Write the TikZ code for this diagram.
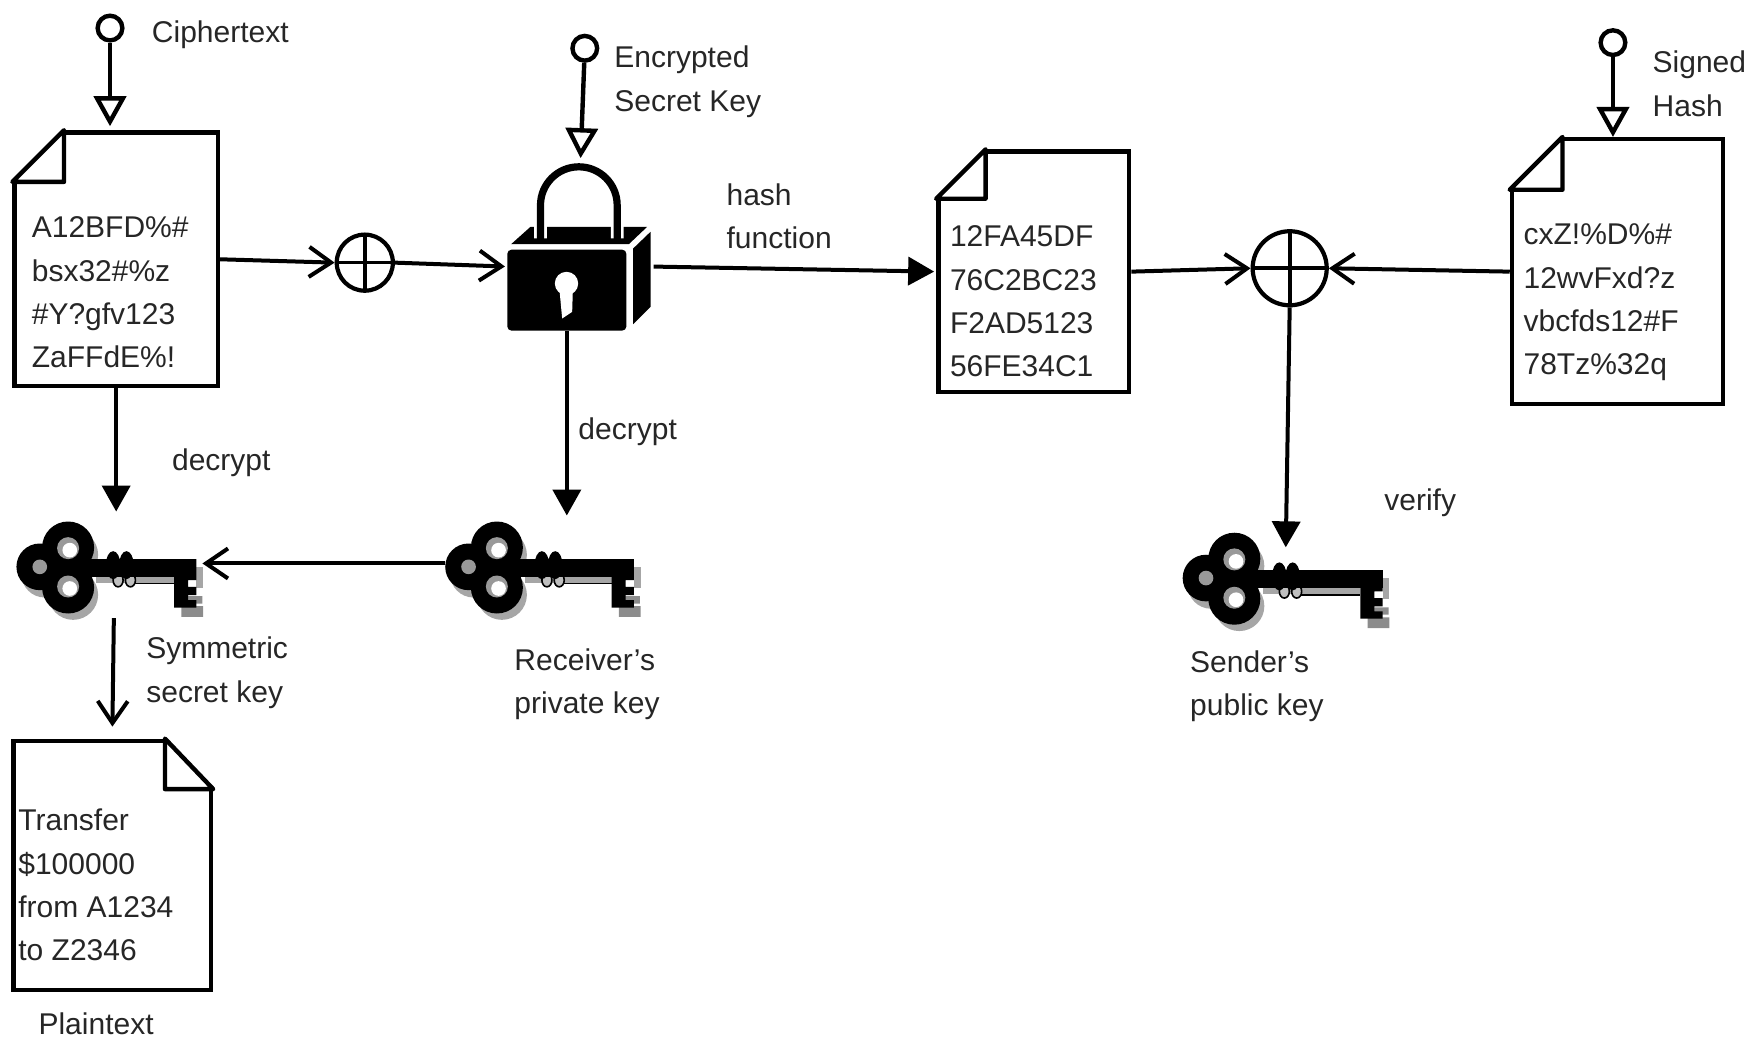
\documentclass[tikz,border=0pt]{standalone}
\usepackage{fontspec}
\setmainfont{Liberation Sans}
\usetikzlibrary{arrows.meta,calc}
\def\unitpx{0.5612pt}
\tikzset{
    docbox/.style 2 args={draw, line width=2.2pt, rectangle, inner sep=0pt,
        minimum width=#1*\unitpx, minimum height=#2*\unitpx},
    foldline/.style={draw, fill=white, line width=2.2pt, line join=round},
    plaintxt/.style={anchor=west, align=left, inner sep=0pt, text=black!85,
        font=\fontsize{15}{21.7}\selectfont},
    pinc/.style={draw, circle, line width=2.2pt, fill=white, inner sep=0pt, minimum size=22*\unitpx},
    xorc/.style={draw, circle, line width=2.1pt, inner sep=0pt, minimum size=#1*\unitpx,
        path picture={\draw[line width=1.8pt] (path picture bounding box.north) -- (path picture bounding box.south);
            \draw[line width=1.8pt] (path picture bounding box.west) -- (path picture bounding box.east);}},
    keyslot/.style={inner sep=0pt, minimum width=#1*\unitpx, minimum height=80*\unitpx},
    lockbody/.style={fill=black, rounded corners=2pt, inner sep=0pt, minimum width=106*\unitpx, minimum height=72*\unitpx},
    pinline/.style={line width=2.2pt, -{Triangle[open, length=15pt, width=16pt]}},
    openline/.style={line width=2pt, -{Straight Barb[length=11pt, width=15pt]}},
    fullline/.style={line width=2pt, -{Triangle[length=13pt, width=14pt]}},
    % key drawn in its own small units, left edge on the origin, #1 shortens the shaft
    pics/keyicon/.style={code={
        \begin{scope}[shift={(70,0)}]
            \fill[black!35] (15,22) circle[radius=70] (100,-36) circle[radius=75] (100,84) circle[radius=75];
            \fill[black!35] (170,20) rectangle (463-#1,48);
            \draw[line width=0.8pt] (280,50) -- (463-#1,50);
            \draw[line width=0.8pt, fill=black!25] (235,40) ellipse[x radius=15, y radius=20] (272,40) ellipse[x radius=15, y radius=20];
            \fill (0,0) circle[radius=70] (85,-58) circle[radius=78] (85,62) circle[radius=78];
            \fill (220,-5) ellipse[x radius=22, y radius=42] (260,-5) ellipse[x radius=22, y radius=42];
            \fill (120,-23) rectangle (530-#1,30);
            \begin{scope}[shift={(-#1,0)}]
                \fill[black!35] (530,0) rectangle (550,62);
                \fill[black!45] (485,118) rectangle (550,150) (500,88) rectangle (548,110);
                \fill (530,-23) -- (530,40) -- (505,40) -- (505,60) -- (530,60) -- (530,85)
                    -- (505,85) -- (505,100) -- (530,100) -- (530,122) -- (463,122) -- (463,-23) -- cycle;
            \end{scope}
            \fill[black!40] (0,0) circle[radius=22] (85,-56) circle[radius=33] (85,59) circle[radius=33];
            \fill[white] (90,-50) circle[radius=22] (90,65) circle[radius=22];
        \end{scope}
    }},
    lockicon/.pic={
        \fill (-167,-138) -- (-109,-190) -- (241,-190) -- (186,-138) -- cycle;
        \fill (199,-125) -- (251,-175) -- (251,50) -- (199,102) -- cycle;
        \draw[white, line width=6.4pt] (-79,-155) -- (-79,-255) arc[start angle=180, end angle=360, radius=115] -- (151,-155);
        \draw[line width=3.6pt, line cap=round] (-79,-155) -- (-79,-255) arc[start angle=180, end angle=360, radius=115] -- (151,-155);
        \fill[white] (-1,-20) circle[radius=35];
        \fill[white] (-22,0) -- (18,0) -- (16,65) -- (-14,85) -- cycle;
    }
}
\begin{document}
\begin{tikzpicture}[x=0.5612pt, y=-0.5612pt]
    \useasboundingbox (0,0) rectangle (1568,924.8);

    % documents
    \node[docbox={181}{226}] (cipher) at (103.5,231) {};
    \node[docbox={170}{214}] (digest) at (921,242) {};
    \node[docbox={188}{236}] (signed) at (1441,242) {};
    \node[docbox={176}{222}] (plain) at (100,771) {};
    \foreach \n/\f in {cipher/46, digest/44, signed/47} {
        \fill[white] (\n.north west) -- ++(\f,0) -- ++(-\f,\f) -- cycle;
        \draw[white, line width=2.6pt] (\n.north west) ++(-1,\f) -- ++(0,-\f-1) -- ++(\f,0);
        \draw[foldline] (\n.north west) ++(\f,0) -- ++(-\f,\f) -- ++(\f,0) -- cycle;
    }
    \fill[white] (plain.north east) -- ++(-43,0) -- ++(43,45) -- cycle;
    \draw[white, line width=2.6pt] (plain.north east) ++(1,45) -- ++(0,-46) -- ++(-43,0);
    \draw[foldline] (plain.north east) ++(-43,0) -- ++(43,45) -- ++(-43,0) -- cycle;

    \node[plaintxt] (ciphertxt) at (28,260.5) {A12BFD\%\#\\bsx32\#\%z\\\#Y?gfv123\\ZaFFdE\%!};
    \node[plaintxt] (digesttxt) at (846,268.5) {12FA45DF\\76C2BC23\\F2AD5123\\56FE34C1};
    \node[plaintxt] (signedtxt) at (1357,269.5) {cxZ!\%D\%\#\\12wvFxd?z\\vbcfds12\#F\\78Tz\%32q};
    \node[plaintxt] (plaintxt) at (16,788.5) {Transfer\\\$100000\\from A1234\\to Z2346};

    % lock and keys
    \node[lockbody] (lock) at (505,258.5) {};
    \pic[scale=0.297] at (lock.center) {lockicon};
    \coordinate (locktop) at (517,148);
    \node[keyslot=165] (keysym) at (97.5,505) {};
    \node[keyslot=173] (keypriv) at (483.5,505) {};
    \node[keyslot=183] (keypub) at (1145.5,515) {};
    \pic[scale=0.297] at (keysym.west) {keyicon=60};
    \pic[scale=0.297] at (keypriv.west) {keyicon=34};
    \pic[scale=0.297] at (keypub.west) {keyicon=0};

    % pins and xor signs
    \node[pinc] (pincipher) at (98,25) {};
    \node[pinc] (pinsecret) at (521,43) {};
    \node[pinc] (pinhash) at (1437,38) {};
    \node[xorc=50] (xorsmall) at (325,234) {};
    \node[xorc=66] (xorbig) at (1149,239) {};

    % connectors
    \draw[pinline, shorten >=2pt] (pincipher) -- (pincipher |- cipher.north);
    \draw[pinline, shorten >=4pt] (pinsecret) -- (locktop);
    \draw[pinline] (pinhash) -- (pinhash |- signed.north);
    \draw[openline] (cipher.east) -- (xorsmall.west);
    \draw[openline, shorten >=1pt] (xorsmall.east) -- ($(lock.west)+(0,-21)$);
    \draw[fullline, shorten >=1pt] ($(lock.east)+(24,-21)$) -- (digest.west);
    \draw[openline] (digest.east) -- (xorbig.west);
    \draw[openline] (signed.west) -- (xorbig.east);
    \draw[fullline] (xorbig.south) -- ($(keypub.north)+(0,13)$);
    \draw[fullline, shorten >=5pt] (cipher.south) -- (cipher.south |- keysym.north);
    \draw[fullline, shorten >=3pt] (lock.south) -- (lock.south |- keypriv.north);
    \draw[openline] ($(keypriv.west)+(0,-3)$) -- ($(keysym.east)+(0,-3)$);
    \draw[openline, shorten <=3pt, shorten >=6pt] (keysym.south) ++(4,0) -- (plain.north);

    % labels
    \node[plaintxt] (lblcipher) at (135,31) {Ciphertext};
    \node[plaintxt] (lblsecret) at (547,73) {Encrypted\\Secret Key};
    \node[plaintxt] (lblhash) at (647,192.5) {hash\\function};
    \node[plaintxt] (lblsigned) at (1472,74.5) {Signed\\Hash};
    \node[plaintxt] (lbldec) at (153,412) {decrypt};
    \node[plaintxt] (lbldecb) at (515,385) {decrypt};
    \node[plaintxt] (lblverify) at (1233,448) {verify};
    \node[plaintxt] (lblsym) at (130,599.5) {Symmetric\\secret key};
    \node[plaintxt] (lblpriv) at (458,609.5) {Receiver’s\\private key};
    \node[plaintxt] (lblpub) at (1060,611.5) {Sender’s\\public key};
    \node[plaintxt] (lblplain) at (34,912) {Plaintext};
\end{tikzpicture}
\end{document}
